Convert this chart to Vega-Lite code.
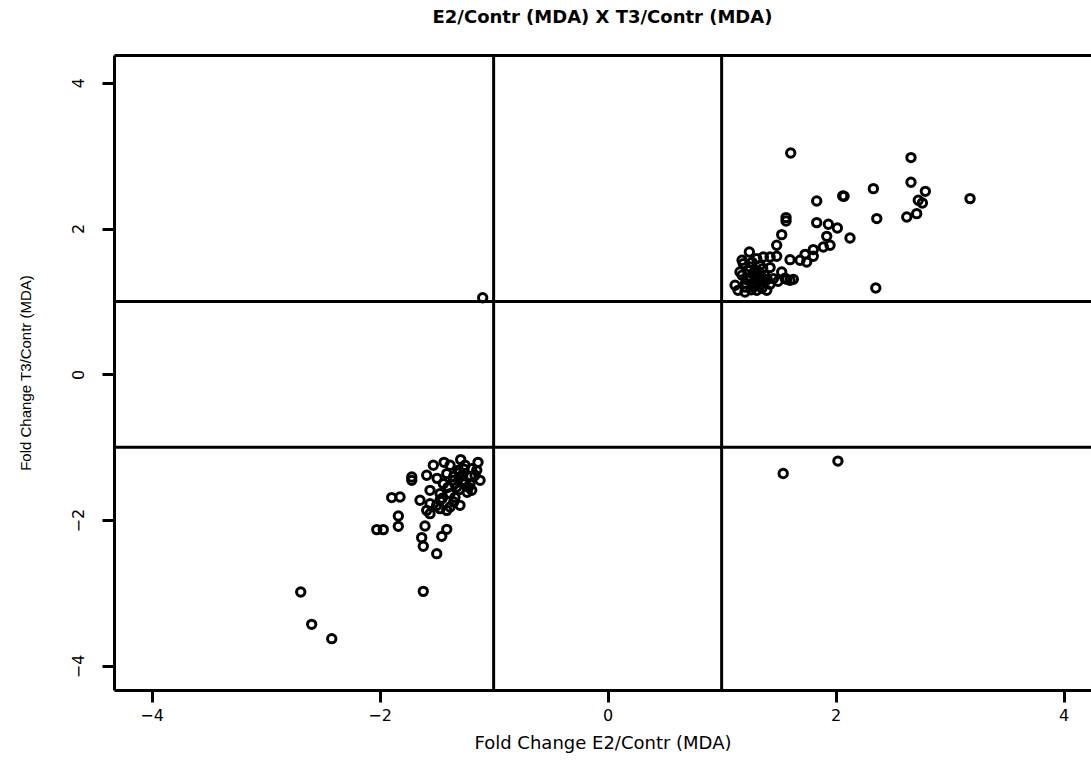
{
  "$schema": "https://vega.github.io/schema/vega-lite/v6.json",
  "autosize": {"type": "none"},
  "width": 977,
  "height": 635,
  "padding": {"left": 114, "top": 55, "right": 0, "bottom": 76},
  "background": "white",
  "title": {
    "text": "E2/Contr (MDA) X T3/Contr (MDA)",
    "font": "DejaVu Sans",
    "fontSize": 18,
    "fontWeight": "bold",
    "color": "black",
    "anchor": "middle",
    "offset": 27
  },
  "config": {
    "view": {"stroke": null},
    "axis": {
      "domainColor": "black",
      "domainWidth": 3,
      "tickColor": "black",
      "tickWidth": 3,
      "tickSize": 12,
      "grid": false,
      "labelColor": "black",
      "titleColor": "black",
      "labelFont": "DejaVu Sans",
      "labelFontSize": 16,
      "titleFontWeight": "normal"
    }
  },
  "datasets": {
    "pts": [
      {"e2": 1.606, "t3": 3.036}, {"e2": 2.661, "t3": 2.973}, {"e2": 2.661, "t3": 2.634}, {"e2": 2.787, "t3": 2.51},
      {"e2": 2.331, "t3": 2.547}, {"e2": 2.062, "t3": 2.446}, {"e2": 2.074, "t3": 2.442}, {"e2": 1.834, "t3": 2.377},
      {"e2": 3.179, "t3": 2.41}, {"e2": 2.725, "t3": 2.387}, {"e2": 2.761, "t3": 2.35}, {"e2": 2.711, "t3": 2.204},
      {"e2": 2.624, "t3": 2.158}, {"e2": 2.361, "t3": 2.136}, {"e2": 1.565, "t3": 2.15}, {"e2": 1.565, "t3": 2.103},
      {"e2": 1.834, "t3": 2.081}, {"e2": 1.936, "t3": 2.058}, {"e2": 2.015, "t3": 2.007}, {"e2": 1.527, "t3": 1.916},
      {"e2": 2.126, "t3": 1.87}, {"e2": 1.922, "t3": 1.893}, {"e2": 1.951, "t3": 1.77}, {"e2": 1.892, "t3": 1.746},
      {"e2": 1.483, "t3": 1.77}, {"e2": 1.804, "t3": 1.711}, {"e2": 1.732, "t3": 1.646}, {"e2": 1.804, "t3": 1.619},
      {"e2": 1.688, "t3": 1.564}, {"e2": 1.746, "t3": 1.54}, {"e2": 1.6, "t3": 1.573}, {"e2": 1.243, "t3": 1.678},
      {"e2": 1.483, "t3": 1.619}, {"e2": 1.425, "t3": 1.609}, {"e2": 1.366, "t3": 1.609}, {"e2": 1.308, "t3": 1.587},
      {"e2": 1.19, "t3": 1.519}, {"e2": 1.249, "t3": 1.472}, {"e2": 1.337, "t3": 1.495}, {"e2": 1.425, "t3": 1.464},
      {"e2": 1.161, "t3": 1.403}, {"e2": 1.278, "t3": 1.381}, {"e2": 1.527, "t3": 1.403}, {"e2": 1.454, "t3": 1.313},
      {"e2": 1.571, "t3": 1.303}, {"e2": 1.629, "t3": 1.303}, {"e2": 1.22, "t3": 1.313}, {"e2": 1.337, "t3": 1.266},
      {"e2": 1.118, "t3": 1.221}, {"e2": 1.205, "t3": 1.198}, {"e2": 1.278, "t3": 1.198}, {"e2": 1.396, "t3": 1.152},
      {"e2": 1.205, "t3": 1.129}, {"e2": 1.308, "t3": 1.152}, {"e2": 2.352, "t3": 1.184},
      {"e2": 1.293, "t3": 1.427}, {"e2": 1.38, "t3": 1.358}, {"e2": 1.232, "t3": 1.289}, {"e2": 1.354, "t3": 1.18},
      {"e2": 1.495, "t3": 1.276}, {"e2": 1.556, "t3": 1.317}, {"e2": 1.6, "t3": 1.289}, {"e2": 1.179, "t3": 1.564},
      {"e2": 1.267, "t3": 1.536}, {"e2": 1.319, "t3": 1.344}, {"e2": 1.425, "t3": 1.235}, {"e2": 1.144, "t3": 1.152},
      {"e2": 1.25, "t3": 1.33}, {"e2": 1.3, "t3": 1.3}, {"e2": 1.35, "t3": 1.33}, {"e2": 1.28, "t3": 1.25},
      {"e2": 1.24, "t3": 1.42}, {"e2": 1.33, "t3": 1.4}, {"e2": 1.21, "t3": 1.25}, {"e2": 1.3, "t3": 1.22},
      {"e2": 1.4, "t3": 1.3}, {"e2": 1.26, "t3": 1.16}, {"e2": 1.18, "t3": 1.36}, {"e2": 1.36, "t3": 1.45},
      {"e2": 1.54, "t3": -1.36}, {"e2": 2.02, "t3": -1.19}, {"e2": -1.096, "t3": 1.05},
      {"e2": -1.289, "t3": -1.17}, {"e2": -1.529, "t3": -1.248}, {"e2": -1.192, "t3": -1.294}, {"e2": -1.148, "t3": -1.317},
      {"e2": -1.718, "t3": -1.409}, {"e2": -1.718, "t3": -1.454}, {"e2": -1.587, "t3": -1.385}, {"e2": -1.411, "t3": -1.362},
      {"e2": -1.354, "t3": -1.454}, {"e2": -1.266, "t3": -1.454}, {"e2": -1.441, "t3": -1.499}, {"e2": -1.324, "t3": -1.546},
      {"e2": -1.207, "t3": -1.499}, {"e2": -1.192, "t3": -1.591}, {"e2": -1.558, "t3": -1.591}, {"e2": -1.47, "t3": -1.636},
      {"e2": -1.382, "t3": -1.636}, {"e2": -1.646, "t3": -1.728}, {"e2": -1.558, "t3": -1.774}, {"e2": -1.47, "t3": -1.728},
      {"e2": -1.894, "t3": -1.691}, {"e2": -1.821, "t3": -1.683}, {"e2": -1.382, "t3": -1.82}, {"e2": -1.295, "t3": -1.797},
      {"e2": -1.47, "t3": -1.842}, {"e2": -1.587, "t3": -1.866}, {"e2": -1.411, "t3": -1.866}, {"e2": -1.558, "t3": -1.911},
      {"e2": -1.836, "t3": -1.944}, {"e2": -1.836, "t3": -2.085}, {"e2": -2.025, "t3": -2.13}, {"e2": -1.968, "t3": -2.13},
      {"e2": -1.602, "t3": -2.081}, {"e2": -1.411, "t3": -2.126}, {"e2": -1.455, "t3": -2.222}, {"e2": -1.631, "t3": -2.24},
      {"e2": -1.617, "t3": -2.359}, {"e2": -1.499, "t3": -2.46}, {"e2": -1.617, "t3": -2.977}, {"e2": -2.692, "t3": -2.986},
      {"e2": -2.596, "t3": -3.429}, {"e2": -2.42, "t3": -3.626},
      {"e2": -1.251, "t3": -1.248}, {"e2": -1.163, "t3": -1.385}, {"e2": -1.312, "t3": -1.317}, {"e2": -1.382, "t3": -1.248},
      {"e2": -1.232, "t3": -1.619}, {"e2": -1.339, "t3": -1.687}, {"e2": -1.137, "t3": -1.207}, {"e2": -1.276, "t3": -1.385},
      {"e2": -1.496, "t3": -1.427}, {"e2": -1.119, "t3": -1.454}, {"e2": -1.435, "t3": -1.207},
      {"e2": -1.3, "t3": -1.35}, {"e2": -1.25, "t3": -1.5}, {"e2": -1.35, "t3": -1.4}, {"e2": -1.2, "t3": -1.4},
      {"e2": -1.3, "t3": -1.58}, {"e2": -1.4, "t3": -1.55}, {"e2": -1.26, "t3": -1.3}, {"e2": -1.34, "t3": -1.5},
      {"e2": -1.22, "t3": -1.55}, {"e2": -1.45, "t3": -1.7}, {"e2": -1.5, "t3": -1.8}, {"e2": -1.35, "t3": -1.75}
    ],
    "vlines": [{"v": -1}, {"v": 1}],
    "hlines": [{"v": -1}, {"v": 1}]
  },
  "layer": [
    {
      "data": {"name": "vlines"},
      "mark": {"type": "rule", "color": "black", "strokeWidth": 3},
      "encoding": {
        "x": {"field": "v", "type": "quantitative", "scale": {"domain": [-4.33, 4.24], "nice": false, "zero": false},
          "axis": {"orient": "top", "labels": false, "ticks": false, "title": null}}
      }
    },
    {
      "data": {"name": "hlines"},
      "mark": {"type": "rule", "color": "black", "strokeWidth": 3},
      "encoding": {
        "y": {"field": "v", "type": "quantitative", "scale": {"domain": [-4.33, 4.38], "nice": false, "zero": false}}
      }
    },
    {
      "data": {"name": "pts"},
      "mark": {"type": "point", "shape": "circle", "filled": false, "color": "black", "strokeWidth": 3, "size": 70, "opacity": 1},
      "encoding": {
        "x": {"field": "e2", "type": "quantitative",
          "axis": {"orient": "bottom", "values": [-4, -2, 0, 2, 4], "format": "d", "title": "Fold Change E2/Contr (MDA)",
            "labelFontSize": 16, "titleFont": "DejaVu Sans", "titleFontSize": 18, "labelPadding": 5, "titlePadding": 11}},
        "y": {"field": "t3", "type": "quantitative",
          "axis": {"orient": "left", "values": [-4, -2, 0, 2, 4], "format": "d", "title": "Fold Change T3/Contr (MDA)",
            "labelFontSize": 16, "labelAngle": -90, "labelAlign": "center", "labelBaseline": "bottom", "labelPadding": 16,
            "titleFont": "Liberation Sans", "titleFontSize": 15, "titlePadding": 37}}
      }
    }
  ],
  "resolve": {"axis": {"x": "independent"}}
}
